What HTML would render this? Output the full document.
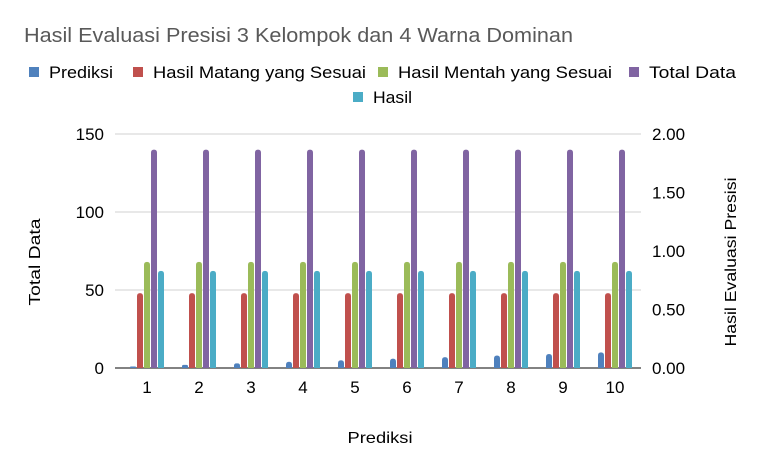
<!DOCTYPE html>
<html><head><meta charset="utf-8"><style>
body{margin:0;background:#fff;}
svg{display:block;font-family:"Liberation Sans",sans-serif;}
</style></head><body>
<svg id="chart" width="764" height="472" viewBox="0 0 764 472" xmlns="http://www.w3.org/2000/svg">
<rect x="0" y="0" width="764" height="472" fill="#fff"/>
<text x="24" y="42" font-size="20" fill="#595959" textLength="549" lengthAdjust="spacingAndGlyphs">Hasil Evaluasi Presisi 3 Kelompok dan 4 Warna Dominan</text>
<g id="legend"></g>
<g id="grid"></g>
<g id="bars"></g>
<g id="axes"></g>
<text transform="translate(40,262) rotate(-90)" text-anchor="middle" font-size="16" fill="#000" textLength="87" lengthAdjust="spacingAndGlyphs">Total Data</text>
<text transform="translate(736,262) rotate(-90)" text-anchor="middle" font-size="16" fill="#000" textLength="169" lengthAdjust="spacingAndGlyphs">Hasil Evaluasi Presisi</text>
<text x="380" y="443" text-anchor="middle" font-size="16" fill="#000" textLength="65" lengthAdjust="spacingAndGlyphs">Prediksi</text>
</svg>
<script>
const categories=["1","2","3","4","5","6","7","8","9","10"];
const prediksi=[1,2,3,4,5,6,7,8,9,10];
const matang=[48,48,48,48,48,48,48,48,48,48];
const mentah=[68,68,68,68,68,68,68,68,68,68];
const totalData=[140,140,140,140,140,140,140,140,140,140];
const hasil=[0.83,0.83,0.83,0.83,0.83,0.83,0.83,0.83,0.83,0.83];
const leftTicks=[0,50,100,150];
const rightTicks=["0.00","0.50","1.00","1.50","2.00"];
const seriesNames=["Prediksi","Hasil Matang yang Sesuai","Hasil Mentah yang Sesuai","Total Data","Hasil"];

const NS="http://www.w3.org/2000/svg";
const colors=["#4f81bd","#c0504d","#9bbb59","#8064a2","#4bacc6"];
const x0=121,x1=641,yTop=134,yBot=368;
const yL=v=>yBot-(v/150)*(yBot-yTop);
const yR=v=>yBot-(v/2)*(yBot-yTop);
const step=(x1-x0)/categories.length;
const cx=i=>x0+step*(i+0.5);
function mk(tag,attrs,parent){const e=document.createElementNS(NS,tag);for(const k in attrs)e.setAttribute(k,attrs[k]);parent.appendChild(e);return e;}
const grid=document.getElementById('grid'),bars=document.getElementById('bars'),axes=document.getElementById('axes'),legend=document.getElementById('legend');
leftTicks.forEach(t=>{
  const l=mk('line',{x1:x0-6,x2:x1,y1:yL(t),y2:yL(t),stroke:t===0?'#595959':'#d9d9d9','stroke-width':t===0?1.5:1.3},grid);
  
  
  const tx=mk('text',{x:104,y:yL(t)+6,'text-anchor':'end','font-size':17,fill:'#000'},axes);
  tx.textContent=t;
  
  
});
rightTicks.forEach(t=>{
  const tx=mk('text',{x:652,y:yR(parseFloat(t))+6,'font-size':17,fill:'#000'},axes);
  tx.textContent=t;
  
  
});
categories.forEach((c,i)=>{
  const tx=mk('text',{x:cx(i),y:393,'text-anchor':'middle','font-size':17,fill:'#000'},axes);
  tx.textContent=c;
  
  
});
const series=[[prediksi,yL],[matang,yL],[mentah,yL],[totalData,yL],[hasil,yR]];
const bw=6,pitch=7;
categories.forEach((c,i)=>{
  series.forEach((s,j)=>{
    const y=s[1](s[0][i]);
    const x=cx(i)+(j-2)*pitch-bw/2;
    const h=yBot-y;
    const r=Math.min(3,h/2);
    const p=mk('path',{d:`M${x},${yBot}V${y+r}Q${x},${y} ${x+r},${y}H${x+bw-r}Q${x+bw},${y} ${x+bw},${y+r}V${yBot}Z`,fill:colors[j]},bars);
    
    
  });
});
const legPos=[[29,78,64],[133,78,213],[378,78,214],[629,78,87],[353,103,39]];
seriesNames.forEach((n,j)=>{
  const [lx,ly,lw]=legPos[j];
  const r=mk('rect',{x:lx,y:ly-11,width:10,height:10,fill:colors[j]},legend);
  
  
  const t=mk('text',{x:lx+20,y:ly,'font-size':17,fill:'#000',textLength:lw,lengthAdjust:'spacingAndGlyphs'},legend);
  t.textContent=n;
  
  
});
</script>
</body></html>
